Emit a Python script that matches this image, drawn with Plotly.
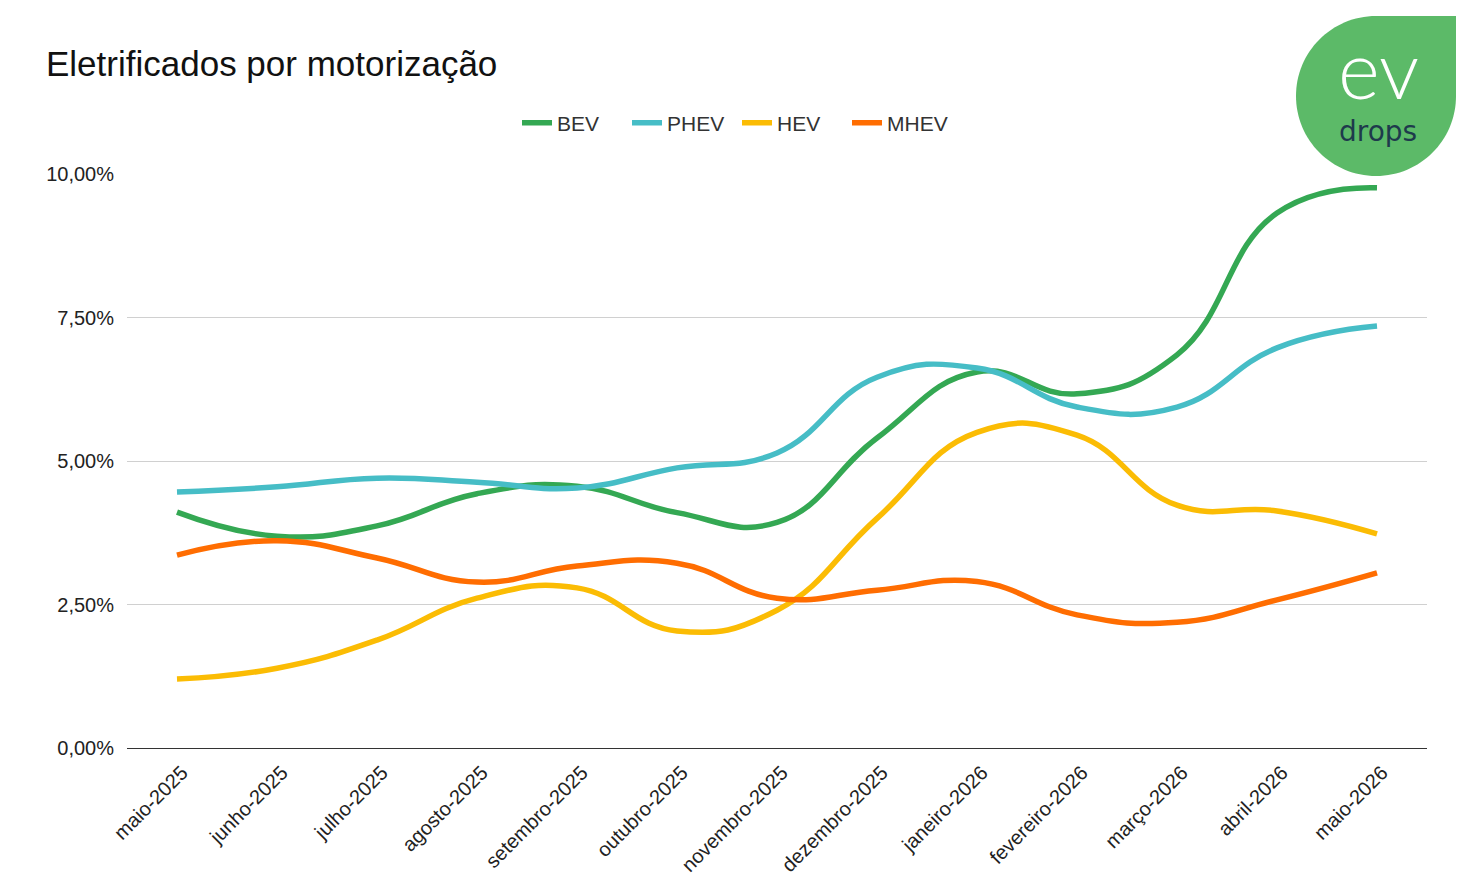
import plotly.graph_objects as go

categories = ["maio-2025", "junho-2025", "julho-2025", "agosto-2025", "setembro-2025",
              "outubro-2025", "novembro-2025", "dezembro-2025", "janeiro-2026",
              "fevereiro-2026", "março-2026", "abril-2026", "maio-2026"]
bev = [4.11, 3.69, 3.87, 4.43, 4.56, 4.10, 3.93, 5.40, 6.55, 6.17, 6.85, 9.32, 9.76]
phev = [4.46, 4.55, 4.70, 4.63, 4.53, 4.88, 5.14, 6.46, 6.62, 5.94, 5.94, 6.97, 7.35]
hev = [1.20, 1.39, 1.88, 2.61, 2.79, 2.04, 2.40, 4.00, 5.50, 5.45, 4.23, 4.13, 3.73]
mhev = [3.36, 3.61, 3.31, 2.89, 3.17, 3.22, 2.61, 2.75, 2.90, 2.32, 2.19, 2.58, 3.05]
y_ticks = [0, 2.5, 5, 7.5, 10]
y_tick_labels = ["0,00%", "2,50%", "5,00%", "7,50%", "10,00%"]

series = [("BEV", bev, "#34a853"), ("PHEV", phev, "#46bdc6"),
          ("HEV", hev, "#fbbc04"), ("MHEV", mhev, "#ff6d01")]

fig = go.Figure()
for name, vals, color in series:
    fig.add_trace(go.Scatter(x=categories, y=vals, name=name, mode="lines",
                             line=dict(color=color, width=5.5, shape="spline", smoothing=1.3),
                             hoverinfo="skip"))

W, H = 1470, 885
L, R, T, B = 127, 1427, 174, 748

def px(x):
    return (x - L) / (R - L)

def py(y):
    return (B - y) / (B - T)

cx, cy, r = 1376, 96, 80
k = 0.5523 * r
pts = [
    ("M", [(cx, cy - r)]),
    ("L", [(cx + r, cy - r)]),
    ("L", [(cx + r, cy)]),
    ("C", [(cx + r, cy + k), (cx + k, cy + r), (cx, cy + r)]),
    ("C", [(cx - k, cy + r), (cx - r, cy + k), (cx - r, cy)]),
    ("C", [(cx - r, cy - k), (cx - k, cy - r), (cx, cy - r)]),
]
path = ""
for cmd, ps in pts:
    path += cmd + " " + " ".join(f"{px(a):.5f},{py(b):.5f}" for a, b in ps) + " "
path += "Z"

fig.add_shape(type="path", path=path, xref="paper", yref="paper",
              fillcolor="#5cba68", line=dict(width=0), layer="above")

fig.add_annotation(text="ev", xref="paper", yref="paper", x=px(1378), y=py(68),
                   xanchor="center", yanchor="middle", showarrow=False,
                   font=dict(family="Lato", size=80, color="white", weight=300))
fig.add_annotation(text="drops", xref="paper", yref="paper", x=px(1378), y=py(131),
                   xanchor="center", yanchor="middle", showarrow=False,
                   font=dict(family="DejaVu Sans", size=28, color="#1e3a4c"))

fig.update_layout(
    width=W, height=H,
    margin=dict(l=L, r=W - R, t=T, b=H - B, pad=0),
    paper_bgcolor="white", plot_bgcolor="white",
    font=dict(family="Liberation Sans, Arial, sans-serif", color="#222"),
    title=dict(text="Eletrificados por motorização", x=46 / W, xanchor="left",
               y=1 - 64 / H, yanchor="middle",
               font=dict(size=35, color="#111")),
    legend=dict(orientation="h", x=px(517), xanchor="left", y=py(123), yanchor="middle",
                font=dict(size=21, color="#333"), traceorder="normal",
                entrywidth=65),
    showlegend=True,
)
fig.update_xaxes(type="category", showgrid=False, tickangle=-45,
                 tickfont=dict(size=20, color="#222"), ticks="", showline=False,
                 ticklabelstandoff=8, ticklabelshift=5, automargin=False,
                 range=[-0.5, len(categories) - 0.5])
fig.update_yaxes(range=[0, 10], tickmode="array", tickvals=y_ticks, ticktext=y_tick_labels,
                 showgrid=True, gridcolor="#d0d0d0", gridwidth=1,
                 zeroline=True, zerolinecolor="#333333", zerolinewidth=1,
                 tickfont=dict(size=20, color="#222"), ticklabelstandoff=12,
                 showline=False, automargin=False)

fig.write_html("out.html")
